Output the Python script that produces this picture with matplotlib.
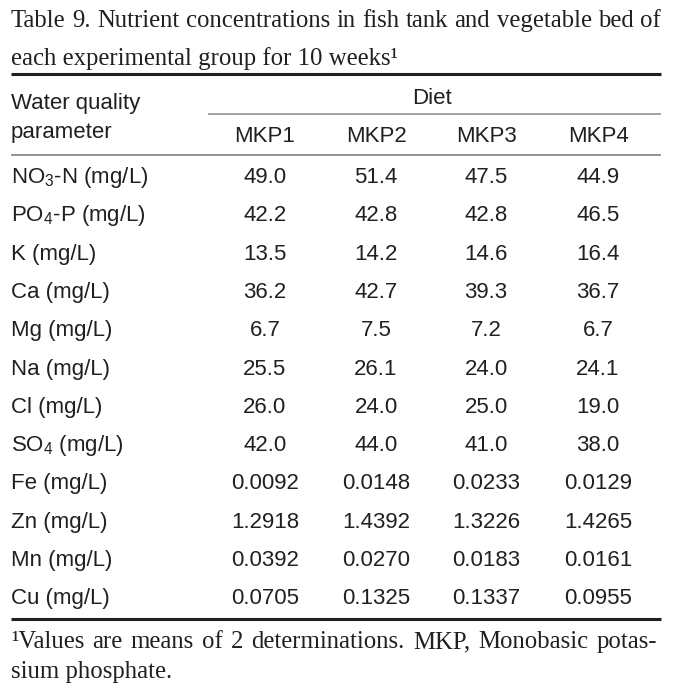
import matplotlib
matplotlib.use("Agg")
import matplotlib.pyplot as plt

plt.rcParams['mathtext.fontset'] = 'custom'
plt.rcParams['mathtext.rm'] = 'Liberation Sans'
plt.rcParams['mathtext.it'] = 'Liberation Sans'
plt.rcParams['mathtext.bf'] = 'Liberation Sans:bold'

title_lines = ["Table 9. Nutrient concentrations in fish tank and vegetable bed of",
               "each experimental group for 10 weeks\u00b9"]
diets = ["MKP1", "MKP2", "MKP3", "MKP4"]
params = ["NO$_3$-N (mg/L)", "PO$_4$-P (mg/L)", "K (mg/L)", "Ca (mg/L)",
          "Mg (mg/L)", "Na (mg/L)", "Cl (mg/L)", "SO$_4$ (mg/L)",
          "Fe (mg/L)", "Zn (mg/L)", "Mn (mg/L)", "Cu (mg/L)"]
mkp1 = ["49.0", "42.2", "13.5", "36.2", "6.7", "25.5", "26.0", "42.0", "0.0092", "1.2918", "0.0392", "0.0705"]
mkp2 = ["51.4", "42.8", "14.2", "42.7", "7.5", "26.1", "24.0", "44.0", "0.0148", "1.4392", "0.0270", "0.1325"]
mkp3 = ["47.5", "42.8", "14.6", "39.3", "7.2", "24.0", "25.0", "41.0", "0.0233", "1.3226", "0.0183", "0.1337"]
mkp4 = ["44.9", "46.5", "16.4", "36.7", "6.7", "24.1", "19.0", "38.0", "0.0129", "1.4265", "0.0161", "0.0955"]
footnote = ["\u00b9Values are means of 2 determinations. MKP, Monobasic potas-",
            "sium phosphate."]

fig = plt.figure(figsize=(6.78, 6.94), dpi=100)
ax = fig.add_axes([0, 0, 1, 1])
ax.set_xlim(0, 678)
ax.set_ylim(694, 0)
ax.axis('off')

ink = '#231f20'
serif = dict(family='Liberation Serif', fontsize=17.8, color=ink)
sans = dict(family='Liberation Sans', fontsize=16, color=ink)

left, right = 11, 661


def justify(words, y, x0, x1, style):
    # spread words so the line fills x0..x1, like the typeset text
    renderer = fig.canvas.get_renderer()
    texts = [ax.text(0, y, w, va='baseline', ha='left', **style) for w in words]
    inv = ax.transData.inverted()
    widths = []
    for t in texts:
        bb = t.get_window_extent(renderer)
        (a, _), (b, _) = inv.transform([[bb.x0, bb.y0], [bb.x1, bb.y0]])
        widths.append(b - a)
    gap = (x1 - x0 - sum(widths)) / (len(words) - 1)
    x = x0
    for t, w in zip(texts, widths):
        t.set_x(x)
        x += w + gap


justify(title_lines[0].split(' '), 27, left, right, serif)
ax.text(left, 65, title_lines[1], va='baseline', ha='left', **serif)

# rules
ax.plot([left, right], [74, 74], color=ink, lw=2.2, solid_capstyle='butt')
ax.plot([208, right], [114, 114], color='#8a8a8a', lw=1.1, solid_capstyle='butt')
ax.plot([left, right], [155, 155], color='#8a8a8a', lw=1.3, solid_capstyle='butt')

ax.text(left, 109, "Water quality", va='baseline', ha='left', **sans)
ax.text(left, 138, "parameter", va='baseline', ha='left', **sans)
ax.text(432, 104, "Diet", va='baseline', ha='center', **sans)

col_x = [265, 376, 486, 598]
for x, d in zip(col_x, diets):
    ax.text(x, 142, d, va='baseline', ha='center', **sans)

row_y0, row_dy = 183, 38.3
for r, p in enumerate(params):
    y = row_y0 + r * row_dy
    ax.text(left, y, p, va='baseline', ha='left', **sans)
    for x, col in zip(col_x, [mkp1, mkp2, mkp3, mkp4]):
        ax.text(x, y, col[r], va='baseline', ha='center', **sans)

ax.plot([left, right], [619, 619], color=ink, lw=2.2, solid_capstyle='butt')

justify(footnote[0].split(' '), 648, left, 657, serif)
ax.text(left, 678, footnote[1], va='baseline', ha='left', **serif)

fig.savefig("out.png", dpi=100)
